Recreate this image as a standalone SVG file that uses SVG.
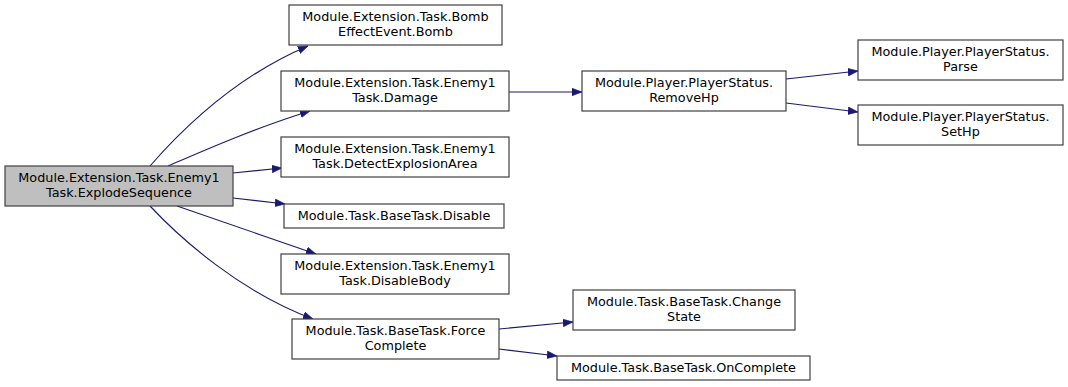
<svg xmlns="http://www.w3.org/2000/svg" width="1068" height="387" viewBox="0 0 1068 387">
  <style>
    .node rect { fill: #ffffff; stroke: #404040; stroke-width: 1.2; }
    .node.root rect { fill: #bfbfbf; }
    .node text { font-family: "DejaVu Sans", "Noto Sans", sans-serif; font-size: 12.8px; fill: #000000; text-anchor: middle; }
    .edges path { fill: none; stroke: #191970; stroke-width: 1.1; marker-end: url(#arrow); }
  </style>
  <defs>
    <marker id="arrow" markerUnits="userSpaceOnUse" markerWidth="11" markerHeight="8" refX="10" refY="3.8" orient="auto">
      <path d="M0,0 L10,3.8 L0,7.6 z" fill="#191970" stroke="#191970" stroke-width="0.6"/>
    </marker>
  </defs>
  <rect width="1068" height="387" fill="#ffffff"/>

  <!-- call edges -->
  <g id="edges" class="edges">
    <path d="M150,166 C178,134 232,78 308,46"/>
    <path d="M168,166 C205,150 255,128 310,111"/>
    <path d="M233,173 L282,168"/>
    <path d="M233,198 L285,204"/>
    <path d="M177,206 C220,221 270,238 316,254"/>
    <path d="M150,206 C180,238 240,292 313,319"/>
    <path d="M509,92 L582,92"/>
    <path d="M786,79 L858,71"/>
    <path d="M786,103 L858,112"/>
    <path d="M499,329 L573,322"/>
    <path d="M499,349 L557,356"/>
  </g>

  <!-- functions -->
  <g id="explode-sequence" class="node root">
    <rect x="5" y="166" width="228" height="40"/>
    <text x="119" y="182">Module.Extension.Task.Enemy1</text>
    <text x="119" y="197">Task.ExplodeSequence</text>
  </g>
  <g id="bomb" class="node">
    <rect x="289" y="5" width="213" height="40"/>
    <text x="395.5" y="21">Module.Extension.Task.Bomb</text>
    <text x="395.5" y="36">EffectEvent.Bomb</text>
  </g>
  <g id="damage" class="node">
    <rect x="281" y="71" width="228" height="40"/>
    <text x="395" y="87">Module.Extension.Task.Enemy1</text>
    <text x="395" y="102">Task.Damage</text>
  </g>
  <g id="detect-explosion-area" class="node">
    <rect x="281" y="137" width="228" height="40"/>
    <text x="395" y="153">Module.Extension.Task.Enemy1</text>
    <text x="395" y="168">Task.DetectExplosionArea</text>
  </g>
  <g id="disable" class="node">
    <rect x="284" y="204" width="220" height="24"/>
    <text x="394" y="220">Module.Task.BaseTask.Disable</text>
  </g>
  <g id="disable-body" class="node">
    <rect x="281" y="254" width="228" height="40"/>
    <text x="395" y="270">Module.Extension.Task.Enemy1</text>
    <text x="395" y="285">Task.DisableBody</text>
  </g>
  <g id="force-complete" class="node">
    <rect x="292" y="319" width="207" height="40"/>
    <text x="395.5" y="335">Module.Task.BaseTask.Force</text>
    <text x="395.5" y="350">Complete</text>
  </g>
  <g id="remove-hp" class="node">
    <rect x="582" y="71" width="204" height="40"/>
    <text x="684" y="87">Module.Player.PlayerStatus.</text>
    <text x="684" y="102">RemoveHp</text>
  </g>
  <g id="parse" class="node">
    <rect x="858" y="40" width="205" height="40"/>
    <text x="960.5" y="56">Module.Player.PlayerStatus.</text>
    <text x="960.5" y="71">Parse</text>
  </g>
  <g id="set-hp" class="node">
    <rect x="858" y="105" width="205" height="40"/>
    <text x="960.5" y="121">Module.Player.PlayerStatus.</text>
    <text x="960.5" y="136">SetHp</text>
  </g>
  <g id="change-state" class="node">
    <rect x="573" y="290" width="222" height="40"/>
    <text x="684" y="306">Module.Task.BaseTask.Change</text>
    <text x="684" y="321">State</text>
  </g>
  <g id="on-complete" class="node">
    <rect x="557" y="356" width="253" height="24"/>
    <text x="683.5" y="372">Module.Task.BaseTask.OnComplete</text>
  </g>
</svg>
